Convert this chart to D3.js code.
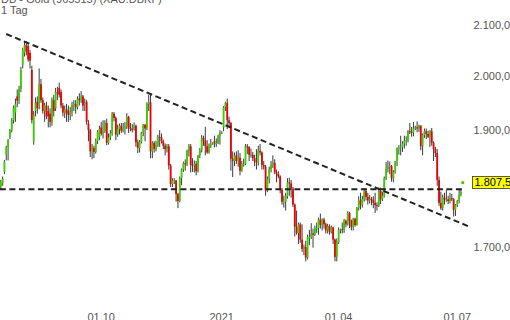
<!DOCTYPE html>
<html>
<head>
<meta charset="utf-8">
<script src="https://cdn.jsdelivr.net/npm/d3@7"></script>
<style>
  body { margin: 0; background: #fff; }
  svg { display: block; font-family: "Liberation Sans", Arial, sans-serif; }
</style>
</head>
<body>
<div id="chart"></div>
<script>
// DB - Gold, daily candles, 16.07.2020 - 05.07.2021 (one entry per weekday)
const firstDay = '2020-07-16';

const opens = [
  1800,1806,1826,1856,1870,1888,1900,1918,1932,1962,
  1954,1976,2022,2045,2060,2058,2045,2012,1880,1935,
  1952,1945,1985,1955,1935,1945,1935,1930,1915,1955,
  1940,1970,1978,1970,1945,1932,1938,1935,1928,1932,
  1946,1948,1942,1958,1955,1962,1948,1952,1912,1900,
  1862,1868,1861,1880,1888,1905,1895,1899,1913,1877,
  1887,1894,1930,1922,1892,1902,1908,1899,1905,1907,
  1924,1904,1902,1902,1908,1878,1868,1879,1895,1910,
  1903,1948,1951,1862,1877,1866,1873,1888,1887,1880,
  1872,1866,1871,1837,1805,1811,1811,1788,1776,1815,
  1830,1841,1839,1863,1871,1838,1837,1840,1827,1855,
  1864,1886,1881,1871,1860,1872,1876,1880,1876,1877,
  1889,1895,1905,1942,1950,1918,1913,1849,1845,1855,
  1845,1851,1828,1840,1840,1871,1870,1856,1856,1850,
  1844,1843,1863,1860,1838,1835,1794,1814,1831,1838,
  1842,1825,1823,1818,1795,1775,1775,1784,1808,1806,
  1797,1770,1733,1723,1737,1712,1697,1700,1683,1716,
  1716,1722,1720,1731,1731,1745,1736,1745,1737,1727,
  1734,1725,1732,1712,1684,1707,1728,1729,1728,1743,
  1737,1756,1743,1733,1746,1736,1764,1777,1770,1779,
  1793,1783,1777,1780,1778,1773,1769,1768,1793,1779,
  1785,1815,1831,1836,1836,1815,1826,1844,1867,1868,
  1869,1876,1881,1882,1898,1897,1895,1903,1905,1903,
  1908,1871,1891,1898,1893,1888,1898,1877,1866,1859,
  1812,1773,1764,1782,1778,1779,1776,1781,1779,1761,
  1770,1776,1787
];
const highs = [
  1812,1818,1847,1872,1884,1902,1922,1945,1958,1975,
  1982,2018,2055,2066,2068,2064,2050,2020,1935,1960,
  1962,2015,1995,1960,1950,1952,1945,1940,1960,1965,
  1978,1980,1988,1975,1950,1945,1948,1945,1942,1952,
  1955,1955,1962,1968,1972,1965,1958,1955,1918,1902,
  1875,1872,1885,1900,1908,1915,1918,1918,1921,1894,
  1900,1933,1933,1925,1910,1912,1913,1913,1915,1931,
  1926,1913,1911,1914,1910,1883,1882,1897,1911,1911,
  1951,1965,1966,1880,1880,1881,1892,1900,1894,1883,
  1876,1875,1875,1840,1815,1815,1812,1790,1818,1832,
  1844,1848,1865,1875,1875,1850,1846,1845,1856,1868,
  1891,1890,1906,1882,1876,1884,1878,1890,1885,1892,
  1900,1898,1944,1952,1958,1925,1915,1862,1860,1862,
  1864,1859,1845,1849,1875,1875,1871,1867,1861,1856,
  1866,1872,1875,1862,1845,1838,1818,1835,1845,1855,
  1848,1830,1827,1820,1798,1785,1790,1815,1816,1812,
  1800,1772,1760,1740,1740,1737,1704,1710,1720,1728,
  1739,1730,1735,1740,1748,1755,1747,1748,1740,1738,
  1737,1735,1733,1714,1714,1732,1730,1740,1746,1745,
  1759,1758,1745,1748,1748,1766,1784,1790,1785,1798,
  1797,1790,1786,1783,1784,1790,1774,1799,1799,1792,
  1818,1843,1846,1844,1838,1829,1845,1869,1873,1890,
  1880,1890,1889,1900,1913,1906,1915,1908,1916,1910,
  1909,1894,1903,1903,1899,1900,1904,1880,1870,1866,
  1818,1792,1787,1790,1795,1785,1790,1788,1781,1771,
  1778,1795,1795
];
const lows = [
  1796,1802,1822,1846,1846,1884,1896,1912,1915,1942,
  1948,1970,2015,2038,2040,2028,2015,1912,1874,1925,
  1930,1938,1950,1930,1915,1920,1905,1905,1908,1925,
  1935,1955,1960,1940,1925,1922,1915,1915,1918,1925,
  1935,1930,1938,1945,1950,1935,1935,1910,1880,1852,
  1848,1850,1858,1875,1882,1890,1885,1895,1873,1874,
  1882,1890,1916,1882,1888,1892,1895,1896,1892,1902,
  1895,1898,1896,1899,1870,1859,1860,1876,1889,1880,
  1900,1935,1850,1850,1860,1862,1870,1870,1876,1866,
  1855,1860,1830,1800,1800,1805,1775,1764,1774,1803,
  1826,1828,1836,1853,1825,1826,1825,1820,1825,1850,
  1860,1872,1855,1858,1858,1868,1874,1869,1870,1875,
  1874,1893,1898,1935,1902,1905,1828,1817,1836,1840,
  1835,1820,1826,1835,1838,1857,1845,1851,1845,1836,
  1830,1837,1855,1830,1830,1785,1791,1806,1825,1833,
  1822,1808,1815,1789,1770,1765,1760,1780,1785,1782,
  1766,1717,1720,1705,1707,1692,1687,1677,1680,1703,
  1713,1699,1718,1723,1720,1730,1727,1730,1722,1722,
  1720,1722,1705,1677,1677,1705,1722,1722,1723,1732,
  1735,1731,1727,1727,1733,1735,1760,1762,1765,1775,
  1777,1770,1772,1769,1764,1756,1760,1766,1771,1776,
  1782,1812,1825,1822,1809,1808,1823,1836,1856,1855,
  1861,1867,1872,1878,1893,1888,1889,1900,1896,1897,
  1864,1855,1886,1884,1886,1870,1872,1845,1852,1802,
  1768,1761,1760,1770,1775,1771,1772,1776,1750,1751,
  1766,1772,1784
];
const closes = [
  1808,1814,1844,1870,1882,1900,1918,1940,1948,1954,
  1976,2012,2050,2060,2048,2032,2030,1918,1928,1950,
  1940,1985,1955,1935,1945,1925,1925,1915,1955,1935,
  1970,1968,1965,1945,1932,1938,1930,1928,1932,1946,
  1948,1942,1958,1955,1962,1945,1950,1915,1900,1862,
  1868,1861,1880,1897,1902,1893,1899,1913,1877,1887,
  1894,1930,1922,1892,1902,1908,1899,1905,1907,1924,
  1904,1902,1901,1908,1878,1868,1879,1895,1910,1903,
  1948,1951,1862,1877,1866,1873,1888,1887,1880,1872,
  1866,1871,1837,1805,1811,1811,1788,1776,1815,1830,
  1841,1839,1863,1871,1838,1837,1840,1827,1855,1864,
  1886,1881,1871,1860,1872,1876,1876,1876,1877,1889,
  1895,1896,1942,1950,1918,1913,1849,1845,1855,1845,
  1851,1828,1840,1840,1871,1870,1856,1856,1850,1844,
  1843,1863,1860,1838,1835,1794,1814,1831,1838,1842,
  1825,1823,1818,1795,1775,1775,1784,1808,1806,1797,
  1770,1733,1723,1737,1712,1697,1700,1683,1716,1716,
  1722,1720,1731,1731,1745,1736,1745,1737,1727,1734,
  1725,1732,1712,1684,1707,1728,1729,1728,1743,1737,
  1756,1743,1733,1746,1736,1764,1777,1770,1779,1793,
  1783,1777,1780,1778,1773,1769,1768,1793,1779,1785,
  1815,1831,1836,1836,1815,1826,1844,1867,1868,1869,
  1876,1881,1882,1898,1897,1895,1903,1905,1903,1908,
  1871,1891,1898,1893,1888,1898,1877,1866,1859,1812,
  1773,1764,1782,1778,1779,1776,1781,1779,1761,1770,
  1776,1787,1791
];

const lastPrice = 1807.53;
const priceTicks = [1700, 1900, 2000, 2100];
const dateTicks = ['2020-10-01', '2021-01-01', '2021-04-01', '2021-07-01'];
const dateTickLabels = ['01.10', '2021', '01.04', '01.07'];

// drawn lines: [weekday index, price]
const trendLine = [[3, 2082], [256, 1734]];
const supportLine = [[-0.5, 1796], [253, 1796]];

let dim = { width: 510, height: 320 };

let svg = d3.select('#chart').append('svg')
    .attr('width', dim.width)
    .attr('height', dim.height);

// weekdays from the first candle on
let days = [];
for (let d = new Date(firstDay + 'T12:00:00'); days.length < closes.length + 5; d.setDate(d.getDate() + 1)) {
    if (d.getDay() % 6 !== 0) days.push(new Date(d));
}

let candles = closes.map((c, i) => ({ i: i, date: days[i], o: opens[i], h: highs[i], l: lows[i], c: c }));

let scaleX = d3.scaleLinear().domain([0, 250]).range([0.8, 457.3]);
let scaleY = d3.scaleLog().domain([1700, 2100]).range([247, 25]);

let de = d3.formatLocale({ decimal: ',', thousands: '.', grouping: [3], currency: ['', ' €'] });
let fmt = de.format(',.2f');

// header
svg.append('text').attr('x', 1).attr('y', 3)
    .attr('font-size', 11).attr('fill', '#555')
    .text('DB - Gold (965515) (XAU.DBKF)');
svg.append('text').attr('x', 1).attr('y', 13.5)
    .attr('font-size', 11).attr('fill', '#555')
    .text('1 Tag');

// candles
let g = svg.append('g');
g.selectAll('line.wick')
    .data(candles)
    .join('line')
    .attr('class', 'wick')
    .attr('x1', d => scaleX(d.i)).attr('x2', d => scaleX(d.i))
    .attr('y1', d => scaleY(d.h)).attr('y2', d => scaleY(d.l))
    .attr('stroke', '#3a3a3a').attr('stroke-width', 1);

g.selectAll('rect.body')
    .data(candles)
    .join('rect')
    .attr('class', 'body')
    .attr('x', d => scaleX(d.i) - 0.9)
    .attr('width', 1.8)
    .attr('y', d => scaleY(Math.max(d.o, d.c)))
    .attr('height', d => Math.max(1, Math.abs(scaleY(d.o) - scaleY(d.c))))
    .attr('fill', d => d.c >= d.o ? '#3ccc00' : '#ee0000');

// dashed lines
let line = d3.line().x(d => scaleX(d[0])).y(d => scaleY(d[1]));
[trendLine, supportLine].forEach(pts => {
    svg.append('path')
        .attr('d', line(pts))
        .attr('fill', 'none')
        .attr('stroke', '#222')
        .attr('stroke-width', 2)
        .attr('stroke-dasharray', '6,3.5');
});

// last price marker
svg.append('circle')
    .attr('cx', scaleX(candles.length))
    .attr('cy', scaleY(lastPrice))
    .attr('r', 1.6)
    .attr('fill', '#3ccc00');

// price axis (right)
svg.append('g').selectAll('text')
    .data(priceTicks)
    .join('text')
    .attr('x', 473.5)
    .attr('y', d => scaleY(d))
    .attr('dy', '0.35em')
    .attr('font-size', 11)
    .attr('fill', '#555')
    .text(d => fmt(d));

// date axis (bottom)
svg.append('g').selectAll('text')
    .data(dateTicks)
    .join('text')
    .attr('x', d => {
        let t = new Date(d + 'T00:00:00');
        return scaleX(days.findIndex(day => day >= t));
    })
    .attr('y', 321)
    .attr('text-anchor', 'middle')
    .attr('font-size', 11)
    .attr('fill', '#555')
    .text((d, i) => dateTickLabels[i]);

// last price box
let yl = scaleY(lastPrice);
svg.append('rect')
    .attr('x', 472.5).attr('y', yl - 6)
    .attr('width', 50).attr('height', 12)
    .attr('fill', '#ffff00')
    .attr('stroke', '#333').attr('stroke-width', 0.8);
svg.append('text')
    .attr('x', 474.5).attr('y', yl)
    .attr('dy', '0.35em')
    .attr('font-size', 11)
    .attr('fill', '#000')
    .text(fmt(lastPrice));
</script>
</body>
</html>
